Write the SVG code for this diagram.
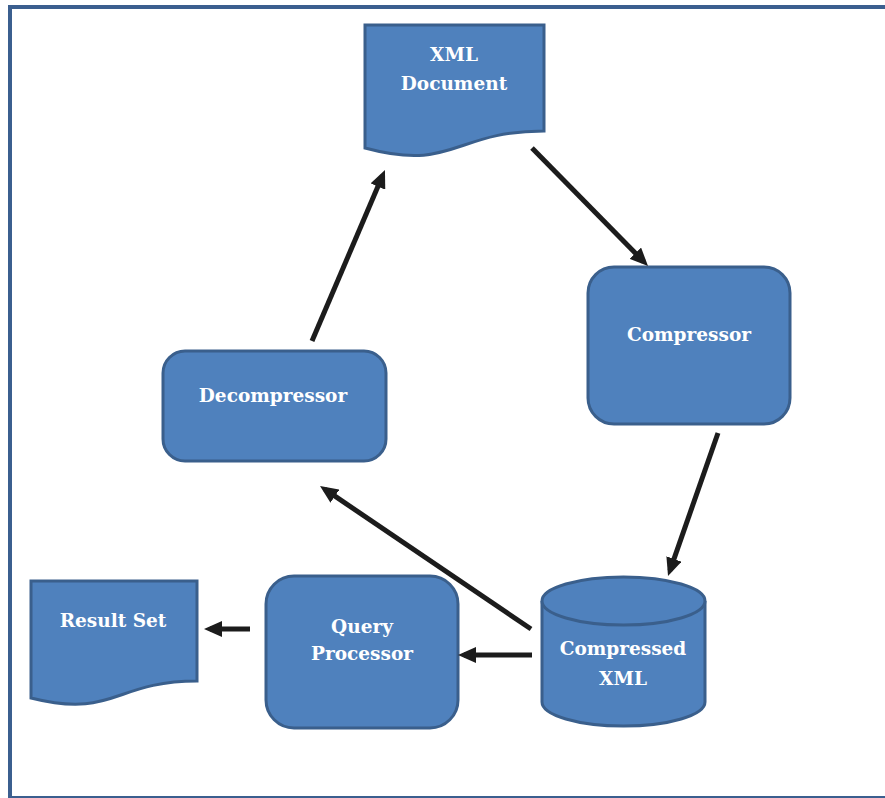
<svg xmlns="http://www.w3.org/2000/svg" width="885" height="798" viewBox="0 0 885 798">
  <style>
    .shape { fill: #4f81bd; stroke: #3a5f8c; stroke-width: 3; }
    .label { fill: #ffffff; font-family: "DejaVu Serif", "Liberation Serif", serif; font-weight: bold; font-size: 18.5px; text-anchor: middle; }
    .conn { stroke: #1c1c1c; stroke-width: 5; fill: none; marker-end: url(#head); }
  </style>
  <defs>
    <marker id="head" markerUnits="userSpaceOnUse" viewBox="0 0 18 16" markerWidth="18" markerHeight="16" refX="12" refY="8" orient="auto">
      <path d="M0,0 L18,8 L0,16 Z" fill="#1c1c1c"/>
    </marker>
  </defs>

  <rect width="885" height="798" fill="#ffffff"/>
  <!-- outer frame -->
  <rect x="10" y="7" width="900" height="791" fill="none" stroke="#3b5f8f" stroke-width="4"/>

  <g id="xml-document">
    <path class="shape" d="M365,25 H544 V131 C454,131 454,172 365,148 Z"/>
    <text class="label" x="454" y="61">XML</text>
    <text class="label" x="454" y="90">Document</text>
  </g>

  <g id="compressor">
    <rect class="shape" x="588" y="267" width="202" height="157" rx="26" ry="26"/>
    <text class="label" x="689" y="341">Compressor</text>
  </g>

  <g id="decompressor">
    <rect class="shape" x="163" y="351" width="223" height="110" rx="22" ry="22"/>
    <text class="label" x="273" y="402">Decompressor</text>
  </g>

  <g id="compressed-xml">
    <path class="shape" d="M542,601 A81.5,24 0 0 1 705,601 V702 A81.5,24 0 0 1 542,702 Z"/>
    <path class="shape" d="M542,601 A81.5,24 0 0 0 705,601" fill="none"/>
    <text class="label" x="623" y="655">Compressed</text>
    <text class="label" x="623" y="685">XML</text>
  </g>

  <g id="query-processor">
    <rect class="shape" x="266" y="576" width="192" height="152" rx="28" ry="28"/>
    <text class="label" x="362" y="633">Query</text>
    <text class="label" x="362" y="660">Processor</text>
  </g>

  <g id="result-set">
    <path class="shape" d="M31,581 H197 V681 C114,681 114,719 31,698 Z"/>
    <text class="label" x="113" y="627">Result Set</text>
  </g>

  <g id="connectors">
    <line class="conn" x1="532" y1="148" x2="643.8" y2="261.7"/>
    <line class="conn" x1="718" y1="433" x2="670" y2="570.3"/>
    <line class="conn" x1="531" y1="629" x2="325" y2="489.4"/>
    <line class="conn" x1="532" y1="655" x2="464" y2="655"/>
    <line class="conn" x1="250" y1="629" x2="210" y2="629"/>
    <line class="conn" x1="312" y1="341" x2="382.6" y2="175.5"/>
  </g>
</svg>
